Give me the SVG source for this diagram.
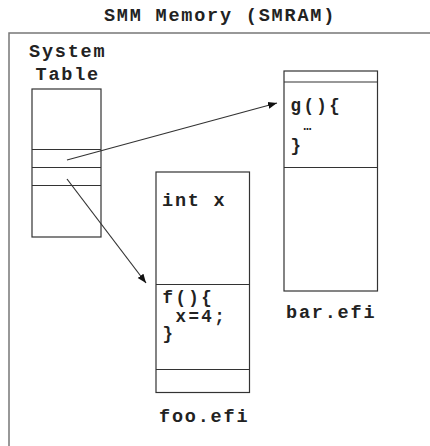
<svg xmlns="http://www.w3.org/2000/svg" width="430" height="446" viewBox="0 0 430 446">
<defs>
<style>
.t{font-family:"Liberation Mono","Courier New",monospace;font-weight:bold;font-size:18.5px;letter-spacing:1.8px;fill:#222}
.c{font-size:17.5px;letter-spacing:2.4px}
.box{fill:none;stroke:#333;stroke-width:1.2}
.ln{stroke:#333;stroke-width:1.2}
.con{stroke:#333;stroke-width:1.2;fill:none}
</style>
<marker id="ah" viewBox="0 0 10 10" refX="10" refY="5" markerWidth="9" markerHeight="9" markerUnits="userSpaceOnUse" orient="auto">
<path d="M0,1 L10,5 L0,9 Z" fill="#111"/>
</marker>
</defs>
<rect width="430" height="446" fill="#fff"/>
<text class="t" x="220" y="20.5" text-anchor="middle">SMM Memory (SMRAM)</text>
<rect x="9" y="33" width="440" height="430" fill="none" stroke="#777" stroke-width="1.5"/>
<g id="systemTable">
<text class="t" x="29" y="57">System</text>
<text class="t" x="35.5" y="80">Table</text>
<rect class="box" x="32" y="89" width="69" height="148"/>
<line class="ln" x1="32" y1="149.5" x2="101" y2="149.5"/>
<line class="ln" x1="32" y1="167.5" x2="101" y2="167.5"/>
<line class="ln" x1="32" y1="185.5" x2="101" y2="185.5"/>
</g>
<g id="foo">
<rect class="box" x="156" y="172" width="93.5" height="220.5"/>
<line class="ln" x1="156" y1="284.5" x2="249.5" y2="284.5"/>
<line class="ln" x1="156" y1="369.5" x2="249.5" y2="369.5"/>
<text class="t" x="162" y="205.5">int x</text>
<text class="t c"><tspan x="162.5" y="303">f(){</tspan><tspan x="175.5" y="321.5">x=4;</tspan><tspan x="162.5" y="338.5">}</tspan></text>
<text class="t" x="159" y="421.5">foo.efi</text>
</g>
<g id="bar">
<rect class="box" x="284" y="71" width="93.5" height="220"/>
<line class="ln" x1="284" y1="82" x2="377.5" y2="82"/>
<line class="ln" x1="284" y1="167.5" x2="377.5" y2="167.5"/>
<text class="t c"><tspan x="290.5" y="110.5">g(){</tspan><tspan x="303.5" y="130" style="font-size:13px;letter-spacing:0">…</tspan><tspan x="290.5" y="151">}</tspan></text>
<text class="t" x="286" y="318">bar.efi</text>
</g>
<g id="connectors">
<line class="con" x1="67" y1="160" x2="277" y2="103" marker-end="url(#ah)"/>
<line class="con" x1="67" y1="179" x2="146" y2="283" marker-end="url(#ah)"/>
</g>
</svg>
